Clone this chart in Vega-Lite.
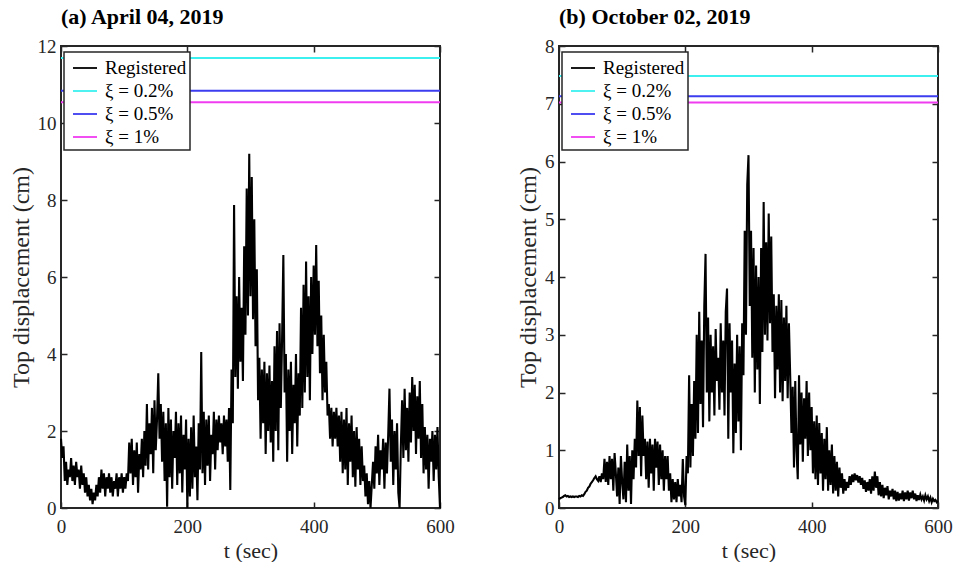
{
"$schema": "https://vega.github.io/schema/vega-lite/v6.json",
"background": "white",
"padding": {"left": 8, "top": 5, "right": 0, "bottom": 0},
"spacing": 59,
"config": {
 "view": {"stroke": "#262626", "strokeWidth": 2},
 "axis": {"grid": false, "domain": false, "labelFont": "Liberation Serif", "labelFontSize": 19, "labelColor": "#262626", "titleFont": "Liberation Serif", "titleFontSize": 22, "titleFontWeight": "normal", "titleColor": "#262626", "tickColor": "#262626", "tickSize": -6, "tickWidth": 1.5, "labelPadding": 11, "labelFlush": false, "labelOverlap": false, "titlePadding": 4},
 "axisBottom": {"labelPadding": 15},
 "axisLeft": {"titleFontSize": 24},
 "title": {"font": "Liberation Serif", "fontSize": 22, "fontWeight": "bold", "anchor": "start", "frame": "group", "color": "#000000", "offset": 8},
 "legend": {"strokeColor": "#262626", "strokeWidth": 1.5, "fillColor": "white", "padding": 3, "rowPadding": -1.3, "symbolOffset": 5, "labelOffset": 7, "symbolType": "stroke", "symbolSize": 576, "symbolStrokeWidth": 1.8, "labelFont": "Liberation Serif", "labelFontSize": 19, "labelColor": "#000000", "labelLimit": 300}
},
"resolve": {"scale": {"color": "independent", "x": "independent", "y": "independent"}, "legend": {"color": "independent"}},
"datasets": {
 "refa": [
  {"s": "ξ = 0.2%", "t": 0, "y": 11.69}, {"s": "ξ = 0.2%", "t": 600, "y": 11.69},
  {"s": "ξ = 0.5%", "t": 0, "y": 10.84}, {"s": "ξ = 0.5%", "t": 600, "y": 10.84},
  {"s": "ξ = 1%", "t": 0, "y": 10.54}, {"s": "ξ = 1%", "t": 600, "y": 10.54}
 ],
 "refb": [
  {"s": "ξ = 0.2%", "t": 0, "y": 7.48}, {"s": "ξ = 0.2%", "t": 600, "y": 7.48},
  {"s": "ξ = 0.5%", "t": 0, "y": 7.13}, {"s": "ξ = 0.5%", "t": 600, "y": 7.13},
  {"s": "ξ = 1%", "t": 0, "y": 7.02}, {"s": "ξ = 1%", "t": 600, "y": 7.02}
 ],
 "a": [
  {"t":0,"y":1.8},{"t":2,"y":1.3},{"t":4,"y":1.6},{"t":6,"y":0.7},{"t":8,"y":1.2},{"t":10,"y":0.6},{"t":12,"y":1.0},{"t":14,"y":0.8},{"t":16,"y":1.3},{"t":18,"y":0.7},
  {"t":20,"y":1.1},{"t":22,"y":0.6},{"t":24,"y":1.2},{"t":26,"y":0.8},{"t":28,"y":1.0},{"t":30,"y":0.5},{"t":32,"y":1.1},{"t":34,"y":0.6},{"t":36,"y":0.9},{"t":38,"y":0.4},
  {"t":40,"y":0.8},{"t":42,"y":0.3},{"t":44,"y":0.6},{"t":46,"y":0.2},{"t":48,"y":0.5},{"t":50,"y":0.1},{"t":52,"y":0.4},{"t":54,"y":0.2},{"t":56,"y":0.6},{"t":58,"y":0.3},
  {"t":60,"y":0.8},{"t":62,"y":0.4},{"t":64,"y":1.0},{"t":66,"y":0.5},{"t":68,"y":0.9},{"t":70,"y":0.3},{"t":72,"y":0.8},{"t":74,"y":0.5},{"t":76,"y":0.9},{"t":78,"y":0.4},
  {"t":80,"y":0.8},{"t":82,"y":0.3},{"t":84,"y":0.7},{"t":86,"y":0.5},{"t":88,"y":0.9},{"t":90,"y":0.3},{"t":92,"y":0.8},{"t":94,"y":0.5},{"t":96,"y":0.9},{"t":98,"y":0.4},
  {"t":100,"y":0.8},{"t":102,"y":0.5},{"t":104,"y":0.9},{"t":106,"y":0.7},{"t":108,"y":1.7},{"t":110,"y":0.9},{"t":112,"y":1.8},{"t":114,"y":0.6},{"t":116,"y":1.5},{"t":118,"y":0.8},
  {"t":120,"y":1.7},{"t":122,"y":0.4},{"t":124,"y":1.4},{"t":126,"y":1.0},{"t":128,"y":1.8},{"t":130,"y":0.8},{"t":132,"y":2.0},{"t":134,"y":1.1},{"t":136,"y":2.7},{"t":138,"y":1.0},
  {"t":140,"y":2.2},{"t":142,"y":1.4},{"t":144,"y":2.6},{"t":146,"y":0.9},{"t":148,"y":2.8},{"t":150,"y":1.5},{"t":152,"y":2.3},{"t":154,"y":3.5},{"t":156,"y":1.8},{"t":158,"y":2.7},
  {"t":160,"y":1.2},{"t":162,"y":2.5},{"t":164,"y":0.7},{"t":166,"y":2.2},{"t":168,"y":0.03},{"t":170,"y":2.6},{"t":172,"y":0.8},{"t":174,"y":2.3},{"t":176,"y":0.5},{"t":178,"y":2.0},
  {"t":180,"y":1.3},{"t":182,"y":2.5},{"t":184,"y":0.6},{"t":186,"y":2.2},{"t":188,"y":0.9},{"t":190,"y":2.4},{"t":192,"y":0.4},{"t":194,"y":1.9},{"t":196,"y":1.0},{"t":198,"y":2.3},
  {"t":200,"y":0.0},{"t":202,"y":1.8},{"t":204,"y":0.3},{"t":206,"y":2.1},{"t":208,"y":0.5},{"t":210,"y":2.4},{"t":212,"y":0.8},{"t":214,"y":1.6},{"t":216,"y":0.2},{"t":218,"y":2.2},
  {"t":220,"y":1.0},{"t":222,"y":4.05},{"t":224,"y":0.9},{"t":226,"y":2.5},{"t":228,"y":0.6},{"t":230,"y":2.3},{"t":232,"y":1.1},{"t":234,"y":2.4},{"t":236,"y":0.7},{"t":238,"y":1.9},
  {"t":240,"y":1.4},{"t":242,"y":2.5},{"t":244,"y":1.0},{"t":246,"y":2.3},{"t":248,"y":1.5},{"t":250,"y":2.4},{"t":252,"y":1.7},{"t":254,"y":2.2},{"t":256,"y":1.4},{"t":258,"y":2.4},
  {"t":260,"y":1.6},{"t":262,"y":2.3},{"t":264,"y":1.2},{"t":266,"y":2.6},{"t":268,"y":0.47},{"t":270,"y":3.6},{"t":272,"y":2.2},{"t":274,"y":7.87},{"t":276,"y":3.4},{"t":278,"y":5.5},
  {"t":280,"y":3.1},{"t":282,"y":6.0},{"t":284,"y":3.8},{"t":286,"y":5.2},{"t":288,"y":3.3},{"t":290,"y":6.8},{"t":292,"y":4.5},{"t":294,"y":8.3},{"t":296,"y":5.0},{"t":298,"y":9.2},
  {"t":300,"y":5.5},{"t":302,"y":8.6},{"t":304,"y":4.9},{"t":306,"y":7.5},{"t":308,"y":4.2},{"t":310,"y":6.2},{"t":312,"y":2.8},{"t":314,"y":3.9},{"t":316,"y":1.8},{"t":318,"y":3.6},
  {"t":320,"y":2.2},{"t":322,"y":3.8},{"t":324,"y":1.4},{"t":326,"y":3.5},{"t":328,"y":2.0},{"t":330,"y":3.7},{"t":332,"y":1.7},{"t":334,"y":3.3},{"t":336,"y":1.2},{"t":338,"y":4.2},
  {"t":340,"y":2.0},{"t":342,"y":4.6},{"t":344,"y":1.5},{"t":346,"y":4.8},{"t":348,"y":2.6},{"t":350,"y":4.4},{"t":352,"y":6.57},{"t":354,"y":3.0},{"t":356,"y":4.0},{"t":358,"y":1.2},
  {"t":360,"y":3.6},{"t":362,"y":2.0},{"t":364,"y":3.8},{"t":366,"y":1.4},{"t":368,"y":3.2},{"t":370,"y":2.2},{"t":372,"y":4.0},{"t":374,"y":1.6},{"t":376,"y":3.5},{"t":378,"y":2.4},
  {"t":380,"y":5.2},{"t":382,"y":2.6},{"t":384,"y":5.8},{"t":386,"y":3.0},{"t":388,"y":6.4},{"t":390,"y":3.4},{"t":392,"y":5.5},{"t":394,"y":2.8},{"t":396,"y":6.0},{"t":398,"y":4.0},
  {"t":400,"y":6.3},{"t":402,"y":4.5},{"t":404,"y":6.83},{"t":406,"y":4.2},{"t":408,"y":5.9},{"t":410,"y":3.5},{"t":412,"y":5.0},{"t":414,"y":2.8},{"t":416,"y":4.5},{"t":418,"y":3.0},
  {"t":420,"y":3.8},{"t":422,"y":2.4},{"t":424,"y":2.7},{"t":426,"y":1.8},{"t":428,"y":2.6},{"t":430,"y":1.6},{"t":432,"y":2.5},{"t":434,"y":1.8},{"t":436,"y":2.6},{"t":438,"y":1.6},
  {"t":440,"y":2.4},{"t":442,"y":1.2},{"t":444,"y":2.5},{"t":446,"y":0.9},{"t":448,"y":2.3},{"t":450,"y":1.0},{"t":452,"y":2.6},{"t":454,"y":0.6},{"t":456,"y":2.2},{"t":458,"y":1.2},
  {"t":460,"y":2.4},{"t":462,"y":0.8},{"t":464,"y":2.0},{"t":466,"y":0.55},{"t":468,"y":2.1},{"t":470,"y":1.0},{"t":472,"y":1.8},{"t":474,"y":0.6},{"t":476,"y":1.6},{"t":478,"y":0.7},
  {"t":480,"y":1.1},{"t":482,"y":0.3},{"t":484,"y":0.9},{"t":486,"y":0.1},{"t":488,"y":0.7},{"t":490,"y":0.0},{"t":492,"y":0.6},{"t":494,"y":1.2},{"t":496,"y":0.5},{"t":498,"y":1.6},
  {"t":500,"y":0.9},{"t":502,"y":1.9},{"t":504,"y":0.6},{"t":506,"y":1.5},{"t":508,"y":1.0},{"t":510,"y":1.8},{"t":512,"y":0.5},{"t":514,"y":1.7},{"t":516,"y":0.9},{"t":518,"y":1.9},
  {"t":520,"y":3.1},{"t":522,"y":1.2},{"t":524,"y":2.3},{"t":526,"y":0.6},{"t":528,"y":2.0},{"t":530,"y":1.0},{"t":532,"y":2.2},{"t":534,"y":0.4},{"t":536,"y":0.0},{"t":538,"y":1.6},
  {"t":540,"y":2.8},{"t":542,"y":1.3},{"t":544,"y":3.1},{"t":546,"y":1.5},{"t":548,"y":2.6},{"t":550,"y":1.2},{"t":552,"y":3.0},{"t":554,"y":1.7},{"t":556,"y":3.4},{"t":558,"y":2.0},
  {"t":560,"y":3.2},{"t":562,"y":1.4},{"t":564,"y":2.9},{"t":566,"y":1.8},{"t":568,"y":3.3},{"t":570,"y":1.3},{"t":572,"y":2.7},{"t":574,"y":0.9},{"t":576,"y":2.1},{"t":578,"y":1.0},
  {"t":580,"y":1.9},{"t":582,"y":0.5},{"t":584,"y":1.8},{"t":586,"y":1.2},{"t":588,"y":2.0},{"t":590,"y":0.7},{"t":592,"y":1.9},{"t":594,"y":1.0},{"t":596,"y":2.1},{"t":598,"y":0.8},
  {"t":600,"y":0.0}
 ],
 "b": [
  {"t":0,"y":0.15},{"t":2,"y":0.17},{"t":4,"y":0.18},{"t":6,"y":0.19},{"t":8,"y":0.21},{"t":10,"y":0.22},{"t":12,"y":0.2},{"t":14,"y":0.21},{"t":16,"y":0.19},{"t":18,"y":0.2},
  {"t":20,"y":0.19},{"t":22,"y":0.2},{"t":24,"y":0.19},{"t":26,"y":0.2},{"t":28,"y":0.2},{"t":30,"y":0.19},{"t":32,"y":0.21},{"t":34,"y":0.2},{"t":36,"y":0.22},{"t":38,"y":0.21},
  {"t":40,"y":0.24},{"t":42,"y":0.28},{"t":44,"y":0.3},{"t":46,"y":0.35},{"t":48,"y":0.37},{"t":50,"y":0.42},{"t":52,"y":0.45},{"t":54,"y":0.48},{"t":56,"y":0.52},{"t":58,"y":0.55},
  {"t":60,"y":0.5},{"t":62,"y":0.47},{"t":64,"y":0.55},{"t":66,"y":0.45},{"t":68,"y":0.6},{"t":70,"y":0.5},{"t":72,"y":0.85},{"t":74,"y":0.45},{"t":76,"y":0.8},{"t":78,"y":0.4},
  {"t":80,"y":0.9},{"t":82,"y":0.5},{"t":84,"y":0.85},{"t":86,"y":0.3},{"t":88,"y":0.95},{"t":90,"y":0.6},{"t":92,"y":0.2},{"t":94,"y":0.7},{"t":96,"y":0.07},{"t":98,"y":0.9},
  {"t":100,"y":0.45},{"t":102,"y":0.15},{"t":104,"y":0.8},{"t":106,"y":0.1},{"t":108,"y":1.1},{"t":110,"y":0.3},{"t":112,"y":0.9},{"t":114,"y":0.07},{"t":116,"y":1.0},{"t":118,"y":0.5},
  {"t":120,"y":1.2},{"t":122,"y":0.7},{"t":124,"y":1.86},{"t":126,"y":0.9},{"t":128,"y":1.75},{"t":130,"y":0.55},{"t":132,"y":1.6},{"t":134,"y":0.9},{"t":136,"y":1.2},{"t":138,"y":0.5},
  {"t":140,"y":1.15},{"t":142,"y":0.35},{"t":144,"y":1.2},{"t":146,"y":0.6},{"t":148,"y":1.1},{"t":150,"y":0.3},{"t":152,"y":1.2},{"t":154,"y":0.7},{"t":156,"y":1.15},{"t":158,"y":0.4},
  {"t":160,"y":1.1},{"t":162,"y":0.5},{"t":164,"y":1.0},{"t":166,"y":0.3},{"t":168,"y":0.9},{"t":170,"y":0.5},{"t":172,"y":0.9},{"t":174,"y":0.3},{"t":176,"y":0.6},{"t":178,"y":0.1},
  {"t":180,"y":0.5},{"t":182,"y":0.15},{"t":184,"y":0.45},{"t":186,"y":0.1},{"t":188,"y":0.5},{"t":190,"y":0.2},{"t":192,"y":0.4},{"t":194,"y":0.1},{"t":196,"y":0.85},{"t":198,"y":0.2},
  {"t":200,"y":0.05},{"t":202,"y":0.9},{"t":204,"y":0.6},{"t":206,"y":2.3},{"t":208,"y":0.7},{"t":210,"y":1.8},{"t":212,"y":0.9},{"t":214,"y":2.2},{"t":216,"y":1.2},{"t":218,"y":3.0},
  {"t":220,"y":1.3},{"t":222,"y":3.4},{"t":224,"y":1.8},{"t":226,"y":2.9},{"t":228,"y":1.4},{"t":230,"y":3.5},{"t":232,"y":4.4},{"t":234,"y":2.0},{"t":236,"y":3.3},{"t":238,"y":1.5},
  {"t":240,"y":3.0},{"t":242,"y":2.0},{"t":244,"y":2.8},{"t":246,"y":1.6},{"t":248,"y":3.1},{"t":250,"y":2.2},{"t":252,"y":2.6},{"t":254,"y":1.7},{"t":256,"y":3.2},{"t":258,"y":2.0},
  {"t":260,"y":2.9},{"t":262,"y":1.6},{"t":264,"y":3.4},{"t":266,"y":3.8},{"t":268,"y":1.2},{"t":270,"y":3.2},{"t":272,"y":2.0},{"t":274,"y":2.9},{"t":276,"y":0.95},{"t":278,"y":2.5},
  {"t":280,"y":1.3},{"t":282,"y":3.0},{"t":284,"y":1.5},{"t":286,"y":2.8},{"t":288,"y":1.0},{"t":290,"y":3.2},{"t":292,"y":2.3},{"t":294,"y":4.8},{"t":296,"y":3.0},{"t":298,"y":5.6},
  {"t":300,"y":6.11},{"t":302,"y":3.5},{"t":304,"y":4.8},{"t":306,"y":2.6},{"t":308,"y":4.5},{"t":310,"y":2.0},{"t":312,"y":4.2},{"t":314,"y":2.4},{"t":316,"y":4.0},{"t":318,"y":1.8},
  {"t":320,"y":4.5},{"t":322,"y":2.7},{"t":324,"y":5.3},{"t":326,"y":3.0},{"t":328,"y":4.6},{"t":330,"y":2.9},{"t":332,"y":5.1},{"t":334,"y":3.2},{"t":336,"y":4.7},{"t":338,"y":2.7},
  {"t":340,"y":3.7},{"t":342,"y":1.9},{"t":344,"y":3.5},{"t":346,"y":2.4},{"t":348,"y":3.7},{"t":350,"y":2.0},{"t":352,"y":3.6},{"t":354,"y":1.85},{"t":356,"y":3.3},{"t":358,"y":2.2},
  {"t":360,"y":3.5},{"t":362,"y":1.9},{"t":364,"y":3.2},{"t":366,"y":2.3},{"t":368,"y":1.3},{"t":370,"y":2.1},{"t":372,"y":0.7},{"t":374,"y":2.2},{"t":376,"y":1.0},{"t":378,"y":0.5},
  {"t":380,"y":2.3},{"t":382,"y":1.1},{"t":384,"y":2.0},{"t":386,"y":0.8},{"t":388,"y":1.9},{"t":390,"y":1.2},{"t":392,"y":2.2},{"t":394,"y":0.9},{"t":396,"y":2.0},{"t":398,"y":1.0},
  {"t":400,"y":1.75},{"t":402,"y":0.6},{"t":404,"y":1.5},{"t":406,"y":0.5},{"t":408,"y":1.6},{"t":410,"y":0.4},{"t":412,"y":1.47},{"t":414,"y":0.6},{"t":416,"y":1.3},{"t":418,"y":0.3},
  {"t":420,"y":1.2},{"t":422,"y":0.5},{"t":424,"y":1.4},{"t":426,"y":0.3},{"t":428,"y":1.0},{"t":430,"y":0.4},{"t":432,"y":1.1},{"t":434,"y":0.25},{"t":436,"y":0.9},{"t":438,"y":0.3},
  {"t":440,"y":0.8},{"t":442,"y":0.2},{"t":444,"y":0.7},{"t":446,"y":0.35},{"t":448,"y":0.6},{"t":450,"y":0.25},{"t":452,"y":0.5},{"t":454,"y":0.3},{"t":456,"y":0.45},{"t":458,"y":0.35},
  {"t":460,"y":0.55},{"t":462,"y":0.4},{"t":464,"y":0.58},{"t":466,"y":0.45},{"t":468,"y":0.6},{"t":470,"y":0.48},{"t":472,"y":0.57},{"t":474,"y":0.44},{"t":476,"y":0.55},{"t":478,"y":0.4},
  {"t":480,"y":0.52},{"t":482,"y":0.33},{"t":484,"y":0.48},{"t":486,"y":0.28},{"t":488,"y":0.45},{"t":490,"y":0.3},{"t":492,"y":0.5},{"t":494,"y":0.25},{"t":496,"y":0.55},{"t":498,"y":0.3},
  {"t":500,"y":0.63},{"t":502,"y":0.35},{"t":504,"y":0.55},{"t":506,"y":0.22},{"t":508,"y":0.45},{"t":510,"y":0.2},{"t":512,"y":0.4},{"t":514,"y":0.17},{"t":516,"y":0.35},{"t":518,"y":0.22},
  {"t":520,"y":0.38},{"t":522,"y":0.15},{"t":524,"y":0.3},{"t":526,"y":0.2},{"t":528,"y":0.33},{"t":530,"y":0.15},{"t":532,"y":0.3},{"t":534,"y":0.12},{"t":536,"y":0.28},{"t":538,"y":0.13},
  {"t":540,"y":0.25},{"t":542,"y":0.15},{"t":544,"y":0.3},{"t":546,"y":0.12},{"t":548,"y":0.27},{"t":550,"y":0.15},{"t":552,"y":0.3},{"t":554,"y":0.13},{"t":556,"y":0.27},{"t":558,"y":0.17},
  {"t":560,"y":0.3},{"t":562,"y":0.15},{"t":564,"y":0.25},{"t":566,"y":0.12},{"t":568,"y":0.22},{"t":570,"y":0.14},{"t":572,"y":0.23},{"t":574,"y":0.15},{"t":576,"y":0.2},{"t":578,"y":0.13},
  {"t":580,"y":0.22},{"t":582,"y":0.15},{"t":584,"y":0.2},{"t":586,"y":0.12},{"t":588,"y":0.18},{"t":590,"y":0.1},{"t":592,"y":0.16},{"t":594,"y":0.12},{"t":596,"y":0.14},{"t":598,"y":0.1},
  {"t":600,"y":0.12}
 ]
},
"hconcat": [
 {
  "title": "(a) April 04, 2019",
  "width": 379, "height": 462,
  "layer": [
   {
    "data": {"name": "refa"},
    "mark": {"type": "line", "strokeWidth": 2},
    "encoding": {
     "x": {"field": "t", "type": "quantitative", "scale": {"domain": [0, 600], "nice": false}, "axis": {"orient": "top", "labels": false, "title": null, "values": [0, 200, 400, 600]}},
     "y": {"field": "y", "type": "quantitative", "scale": {"domain": [0, 12], "nice": false}, "axis": {"orient": "right", "labels": false, "title": null, "values": [0, 2, 4, 6, 8, 10, 12]}},
     "color": {"field": "s", "type": "nominal", "scale": {"domain": ["Registered", "ξ = 0.2%", "ξ = 0.5%", "ξ = 1%"], "range": ["#000000", "#3CF0F0", "#3C3CF0", "#F03CF0"]}, "legend": {"orient": "none", "legendX": 3, "legendY": 6, "title": null}}
    }
   },
   {
    "data": {"name": "a"},
    "mark": {"type": "line", "strokeWidth": 2.1},
    "encoding": {
     "x": {"field": "t", "type": "quantitative", "scale": {"domain": [0, 600], "nice": false}, "axis": {"orient": "bottom", "title": "t (sec)", "values": [0, 200, 400, 600]}},
     "y": {"field": "y", "type": "quantitative", "scale": {"domain": [0, 12], "nice": false}, "axis": {"orient": "left", "title": "Top displacement (cm)", "values": [0, 2, 4, 6, 8, 10, 12]}},
     "color": {"datum": "Registered", "type": "nominal", "scale": {"domain": ["Registered", "ξ = 0.2%", "ξ = 0.5%", "ξ = 1%"], "range": ["#000000", "#3CF0F0", "#3C3CF0", "#F03CF0"]}}
    }
   }
  ]
 },
 {
  "title": "(b) October 02, 2019",
  "width": 379, "height": 462,
  "layer": [
   {
    "data": {"name": "refb"},
    "mark": {"type": "line", "strokeWidth": 2},
    "encoding": {
     "x": {"field": "t", "type": "quantitative", "scale": {"domain": [0, 600], "nice": false}, "axis": {"orient": "top", "labels": false, "title": null, "values": [0, 200, 400, 600]}},
     "y": {"field": "y", "type": "quantitative", "scale": {"domain": [0, 8], "nice": false}, "axis": {"orient": "right", "labels": false, "title": null, "values": [0, 1, 2, 3, 4, 5, 6, 7, 8]}},
     "color": {"field": "s", "type": "nominal", "scale": {"domain": ["Registered", "ξ = 0.2%", "ξ = 0.5%", "ξ = 1%"], "range": ["#000000", "#3CF0F0", "#3C3CF0", "#F03CF0"]}, "legend": {"orient": "none", "legendX": 3, "legendY": 6, "title": null}}
    }
   },
   {
    "data": {"name": "b"},
    "mark": {"type": "line", "strokeWidth": 2.1},
    "encoding": {
     "x": {"field": "t", "type": "quantitative", "scale": {"domain": [0, 600], "nice": false}, "axis": {"orient": "bottom", "title": "t (sec)", "values": [0, 200, 400, 600]}},
     "y": {"field": "y", "type": "quantitative", "scale": {"domain": [0, 8], "nice": false}, "axis": {"orient": "left", "title": "Top displacement (cm)", "values": [0, 1, 2, 3, 4, 5, 6, 7, 8]}},
     "color": {"datum": "Registered", "type": "nominal", "scale": {"domain": ["Registered", "ξ = 0.2%", "ξ = 0.5%", "ξ = 1%"], "range": ["#000000", "#3CF0F0", "#3C3CF0", "#F03CF0"]}}
    }
   }
  ]
 }
]
}
